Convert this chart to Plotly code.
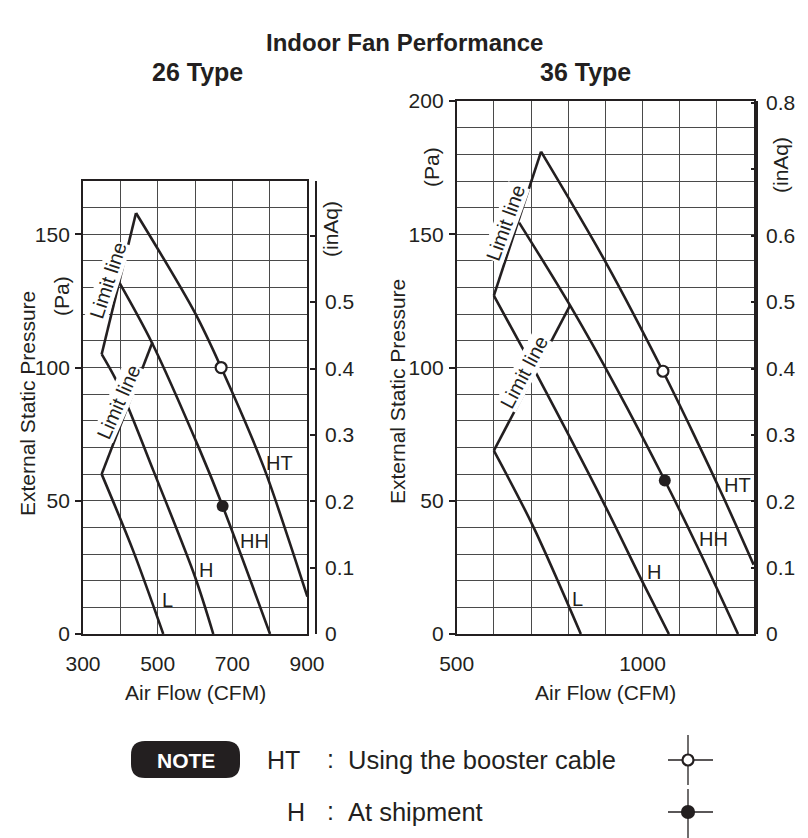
import plotly.graph_objects as go

# ---------------- data: 26 Type (air flow CFM, static pressure Pa) ----------------
t26_ht_cfm = [442, 600, 670, 783, 846, 901]
t26_ht_pa = [158, 120.5, 100, 63, 37.5, 14]
t26_hh_cfm = [399, 484, 613, 674, 801]
t26_hh_pa = [131.5, 109.5, 69, 48, 0]
t26_h_cfm = [350, 386, 421, 488, 600, 649]
t26_h_pa = [105, 96, 85, 61.5, 21.5, 0]
t26_l_cfm = [350, 435, 515]
t26_l_pa = [60, 31, 0]
t26_limit_hi_cfm = [350, 442]
t26_limit_hi_pa = [105, 158]
t26_limit_lo_cfm = [350, 486]
t26_limit_lo_pa = [60, 109.5]
t26_booster = (670, 100)   # HT point, booster cable
t26_shipment = (674, 48)   # H point, at shipment

# ---------------- data: 36 Type ----------------
t36_ht_cfm = [727, 903, 1055, 1136, 1217, 1299]
t36_ht_pa = [181, 139, 98.6, 75.5, 51.5, 26]
t36_hh_cfm = [668, 805, 930, 1060, 1145, 1257]
t36_hh_pa = [154.4, 123.3, 92.3, 57.6, 33.5, 0]
t36_h_cfm = [600, 679, 715, 894, 1002, 1071]
t36_h_pa = [127, 106.8, 97.5, 49.6, 19, 0]
t36_l_cfm = [600, 706, 834]
t36_l_pa = [68.8, 40.3, 0]
t36_limit_hi_cfm = [600, 727]
t36_limit_hi_pa = [127, 181]
t36_limit_lo_cfm = [600, 805]
t36_limit_lo_pa = [68.8, 123.3]
t36_booster = (1055, 98.6)
t36_shipment = (1060, 57.6)

# curve labels: (text, cfm, pa)
t26_labels = [("HT", 825, 64), ("HH", 760, 35), ("H", 629, 24), ("L", 525, 12.7)]
t36_labels = [("HT", 1255, 55.8), ("HH", 1191, 35.6), ("H", 1030, 23.1), ("L", 824, 13.1)]
# limit-line captions: (cfm, pa, angle)
t26_limit_text = [(368, 132.7, -72), (395, 87.1, -66)]
t36_limit_text = [(631, 154.3, -70), (681, 98.5, -62)]

PA_PER_INAQ = 249.09
t26_pa_range = [0, 170]
t36_pa_range = [0, 200]
t26_cfm_range = [300, 900]
t36_cfm_range = [500, 1300]
t26_inaq_ticks = [0, 0.1, 0.2, 0.3, 0.4, 0.5, 0.6]
t26_inaq_text = ["0", "0.1", "0.2", "0.3", "0.4", "0.5", ""]
t36_inaq_ticks = [0, 0.1, 0.2, 0.3, 0.4, 0.5, 0.6, 0.7, 0.8]
t36_inaq_text = ["0", "0.1", "0.2", "0.3", "0.4", "0.5", "0.6", "", "0.8"]

# ---------------- page geometry ----------------
W, H = 808, 838
INK = "#231f20"
GRID = "#4a4a4a"
FONT = "Liberation Sans, Arial, Helvetica, sans-serif"


def px(x):
    return x / W


def py(y):
    return 1 - y / H


fig = go.Figure()

LW = 2.6


def add_chart(xa, ya, series, limits, booster, shipment):
    for cx, cy in series:
        fig.add_trace(go.Scatter(x=cx, y=cy, mode="lines", xaxis=xa, yaxis=ya,
                                 line=dict(color=INK, width=LW, shape="spline", smoothing=0.9),
                                 hoverinfo="skip", showlegend=False))
    for cx, cy in limits:
        fig.add_trace(go.Scatter(x=cx, y=cy, mode="lines", xaxis=xa, yaxis=ya,
                                 line=dict(color=INK, width=LW), hoverinfo="skip",
                                 showlegend=False))
    fig.add_trace(go.Scatter(x=[booster[0]], y=[booster[1]], mode="markers", xaxis=xa, yaxis=ya,
                             marker=dict(size=11, color="white", line=dict(color=INK, width=2.2)),
                             hoverinfo="skip", showlegend=False))
    fig.add_trace(go.Scatter(x=[shipment[0]], y=[shipment[1]], mode="markers", xaxis=xa, yaxis=ya,
                             marker=dict(size=12, color=INK, line=dict(width=0)),
                             hoverinfo="skip", showlegend=False))


add_chart("x", "y",
          [(t26_ht_cfm, t26_ht_pa), (t26_hh_cfm, t26_hh_pa), (t26_h_cfm, t26_h_pa), (t26_l_cfm, t26_l_pa)],
          [(t26_limit_hi_cfm, t26_limit_hi_pa), (t26_limit_lo_cfm, t26_limit_lo_pa)],
          t26_booster, t26_shipment)
add_chart("x2", "y2",
          [(t36_ht_cfm, t36_ht_pa), (t36_hh_cfm, t36_hh_pa), (t36_h_cfm, t36_h_pa), (t36_l_cfm, t36_l_pa)],
          [(t36_limit_hi_cfm, t36_limit_hi_pa), (t36_limit_lo_cfm, t36_limit_lo_pa)],
          t36_booster, t36_shipment)

# inAq scales share the Pa zero; empty traces keep the secondary axes alive
fig.add_trace(go.Scatter(x=[None], y=[None], xaxis="x", yaxis="y3", showlegend=False, hoverinfo="skip"))
fig.add_trace(go.Scatter(x=[None], y=[None], xaxis="x2", yaxis="y4", showlegend=False, hoverinfo="skip"))

# plot boxes (pixels)
L_X0, L_X1 = 83, 307
R_X0, R_X1 = 456.7, 754
Y_BOT = 634
L_TOP = Y_BOT - t26_pa_range[1] * 2.6647
R_TOP = Y_BOT - t36_pa_range[1] * 2.6647

tickfont = dict(family=FONT, size=21, color=INK)


def xaxis_cfg(dom, rng, tickvals):
    return dict(domain=[px(dom[0]), px(dom[1])], range=rng, tickvals=tickvals,
                showgrid=True, gridcolor=GRID, gridwidth=1,
                minor=dict(dtick=100, tick0=rng[0], showgrid=True, gridcolor=GRID, gridwidth=1),
                showline=True, linecolor=INK, linewidth=1.8, mirror=True,
                ticks="", ticklabelstandoff=10, tickfont=tickfont, zeroline=False,
                automargin=False, fixedrange=True)


def yaxis_cfg(xa, top, rng):
    return dict(domain=[py(Y_BOT), py(top)], range=rng, anchor=xa, dtick=50, tick0=0,
                showgrid=True, gridcolor=GRID, gridwidth=1,
                minor=dict(dtick=10, tick0=0, showgrid=True, gridcolor=GRID, gridwidth=1),
                showline=True, linecolor=INK, linewidth=1.8, mirror=True,
                ticks="outside", ticklen=6, tickwidth=1.5, tickcolor=INK,
                ticklabelstandoff=1, tickfont=tickfont, zeroline=False,
                automargin=False, fixedrange=True)


def inaq_cfg(base, top, rng, pos, tv, tt):
    return dict(domain=[py(Y_BOT), py(top)], overlaying=base, side="right", anchor="free",
                position=px(pos), range=[rng[0] / PA_PER_INAQ, rng[1] / PA_PER_INAQ],
                tickvals=tv, ticktext=tt, showgrid=False, zeroline=False,
                showline=True, linecolor=INK, linewidth=1.8,
                ticks="inside", ticklen=5, tickwidth=1.5, tickcolor=INK,
                ticklabelstandoff=4, tickfont=tickfont, automargin=False, fixedrange=True)


annotations = []


def note(text, x, y, size=21, angle=0, bold=False, color=INK, xanchor="center", **kw):
    annotations.append(dict(text=f"<b>{text}</b>" if bold else text, x=px(x), y=py(y),
                            xref="paper", yref="paper", showarrow=False, textangle=angle,
                            font=dict(family=FONT, size=size, color=color),
                            xanchor=xanchor, yanchor="middle", **kw))


# titles
note("Indoor Fan Performance", 404, 42, size=24, bold=True)
note("26 Type", 197, 72, size=25, bold=True)
note("36 Type", 585, 72, size=25, bold=True)

# axis captions
note("External Static Pressure", 27, 404, angle=-90)
note("(Pa)", 61, 296, angle=-90)
note("(inAq)", 330, 229, angle=-90)
note("Air Flow (CFM)", 195, 692)
note("External Static Pressure", 398, 392, angle=-90)
note("(Pa)", 432, 167, angle=-90)
note("(inAq)", 780, 165, angle=-90)
note("Air Flow (CFM)", 605, 692)

# curve names and limit captions inside the plots
for xa, ya, labels, lims in (("x", "y", t26_labels, t26_limit_text),
                            ("x2", "y2", t36_labels, t36_limit_text)):
    for text, cx, cy in labels:
        annotations.append(dict(text=text, x=cx, y=cy, xref=xa, yref=ya, showarrow=False,
                                font=dict(family=FONT, size=20, color=INK)))
    for cx, cy, ang in lims:
        annotations.append(dict(text="Limit line", x=cx, y=cy, xref=xa, yref=ya, showarrow=False,
                                textangle=ang, bgcolor="white", borderpad=0,
                                font=dict(family=FONT, size=20, color=INK)))

# NOTE block
note("NOTE", 186, 760, size=21, bold=True, color="white")
note("HT", 283, 760, size=25)
note(":", 330, 759, size=25)
note("Using the booster cable", 346, 760, size=25.5, xanchor="left")
note("H", 296, 812, size=25)
note(":", 330, 811, size=25)
note("At shipment", 346, 812, size=25.5, xanchor="left")

shapes = []


def pill(x0, y0, x1, y1, r):
    rx, ry = r / W, r / H
    a0, a1 = px(x0), px(x1)
    b0, b1 = py(y1), py(y0)
    path = (f"M {a0 + rx},{b0} L {a1 - rx},{b0} Q {a1},{b0} {a1},{b0 + ry} "
            f"L {a1},{b1 - ry} Q {a1},{b1} {a1 - rx},{b1} L {a0 + rx},{b1} "
            f"Q {a0},{b1} {a0},{b1 - ry} L {a0},{b0 + ry} Q {a0},{b0} {a0 + rx},{b0} Z")
    return dict(type="path", path=path, xref="paper", yref="paper",
                fillcolor=INK, line=dict(width=0))


shapes.append(pill(131, 741, 240, 778, 14))


def line(x0, y0, x1, y1, w=1.3):
    shapes.append(dict(type="line", xref="paper", yref="paper", x0=px(x0), y0=py(y0),
                       x1=px(x1), y1=py(y1), line=dict(color=INK, width=w)))


def dot(cx, cy, r, fill):
    shapes.append(dict(type="circle", xref="paper", yref="paper",
                       x0=px(cx - r), x1=px(cx + r), y0=py(cy + r), y1=py(cy - r),
                       fillcolor=fill, line=dict(color=INK, width=2.2)))


line(668, 760, 713, 760)
line(688, 735, 688, 785)
dot(688, 760, 5.5, "white")
line(668, 812, 713, 812, 1.6)
line(688, 789, 688, 838)
dot(688, 812, 6, INK)

fig.update_layout(
    width=W, height=H, autosize=False,
    margin=dict(l=0, r=0, t=0, b=0, pad=0, autoexpand=False),
    paper_bgcolor="white", plot_bgcolor="white",
    showlegend=False,
    font=dict(family=FONT, color=INK),
    xaxis=dict(xaxis_cfg((L_X0, L_X1), t26_cfm_range, [300, 500, 700, 900]), anchor="y"),
    yaxis=yaxis_cfg("x", L_TOP, t26_pa_range),
    xaxis2=dict(xaxis_cfg((R_X0, R_X1), t36_cfm_range, [500, 1000]), anchor="y2"),
    yaxis2=yaxis_cfg("x2", R_TOP, t36_pa_range),
    yaxis3=inaq_cfg("y", L_TOP, t26_pa_range, 316, t26_inaq_ticks, t26_inaq_text),
    yaxis4=inaq_cfg("y2", R_TOP, t36_pa_range, 757, t36_inaq_ticks, t36_inaq_text),
    annotations=annotations,
    shapes=shapes,
)

fig.write_html("out.html", config={"responsive": False})
